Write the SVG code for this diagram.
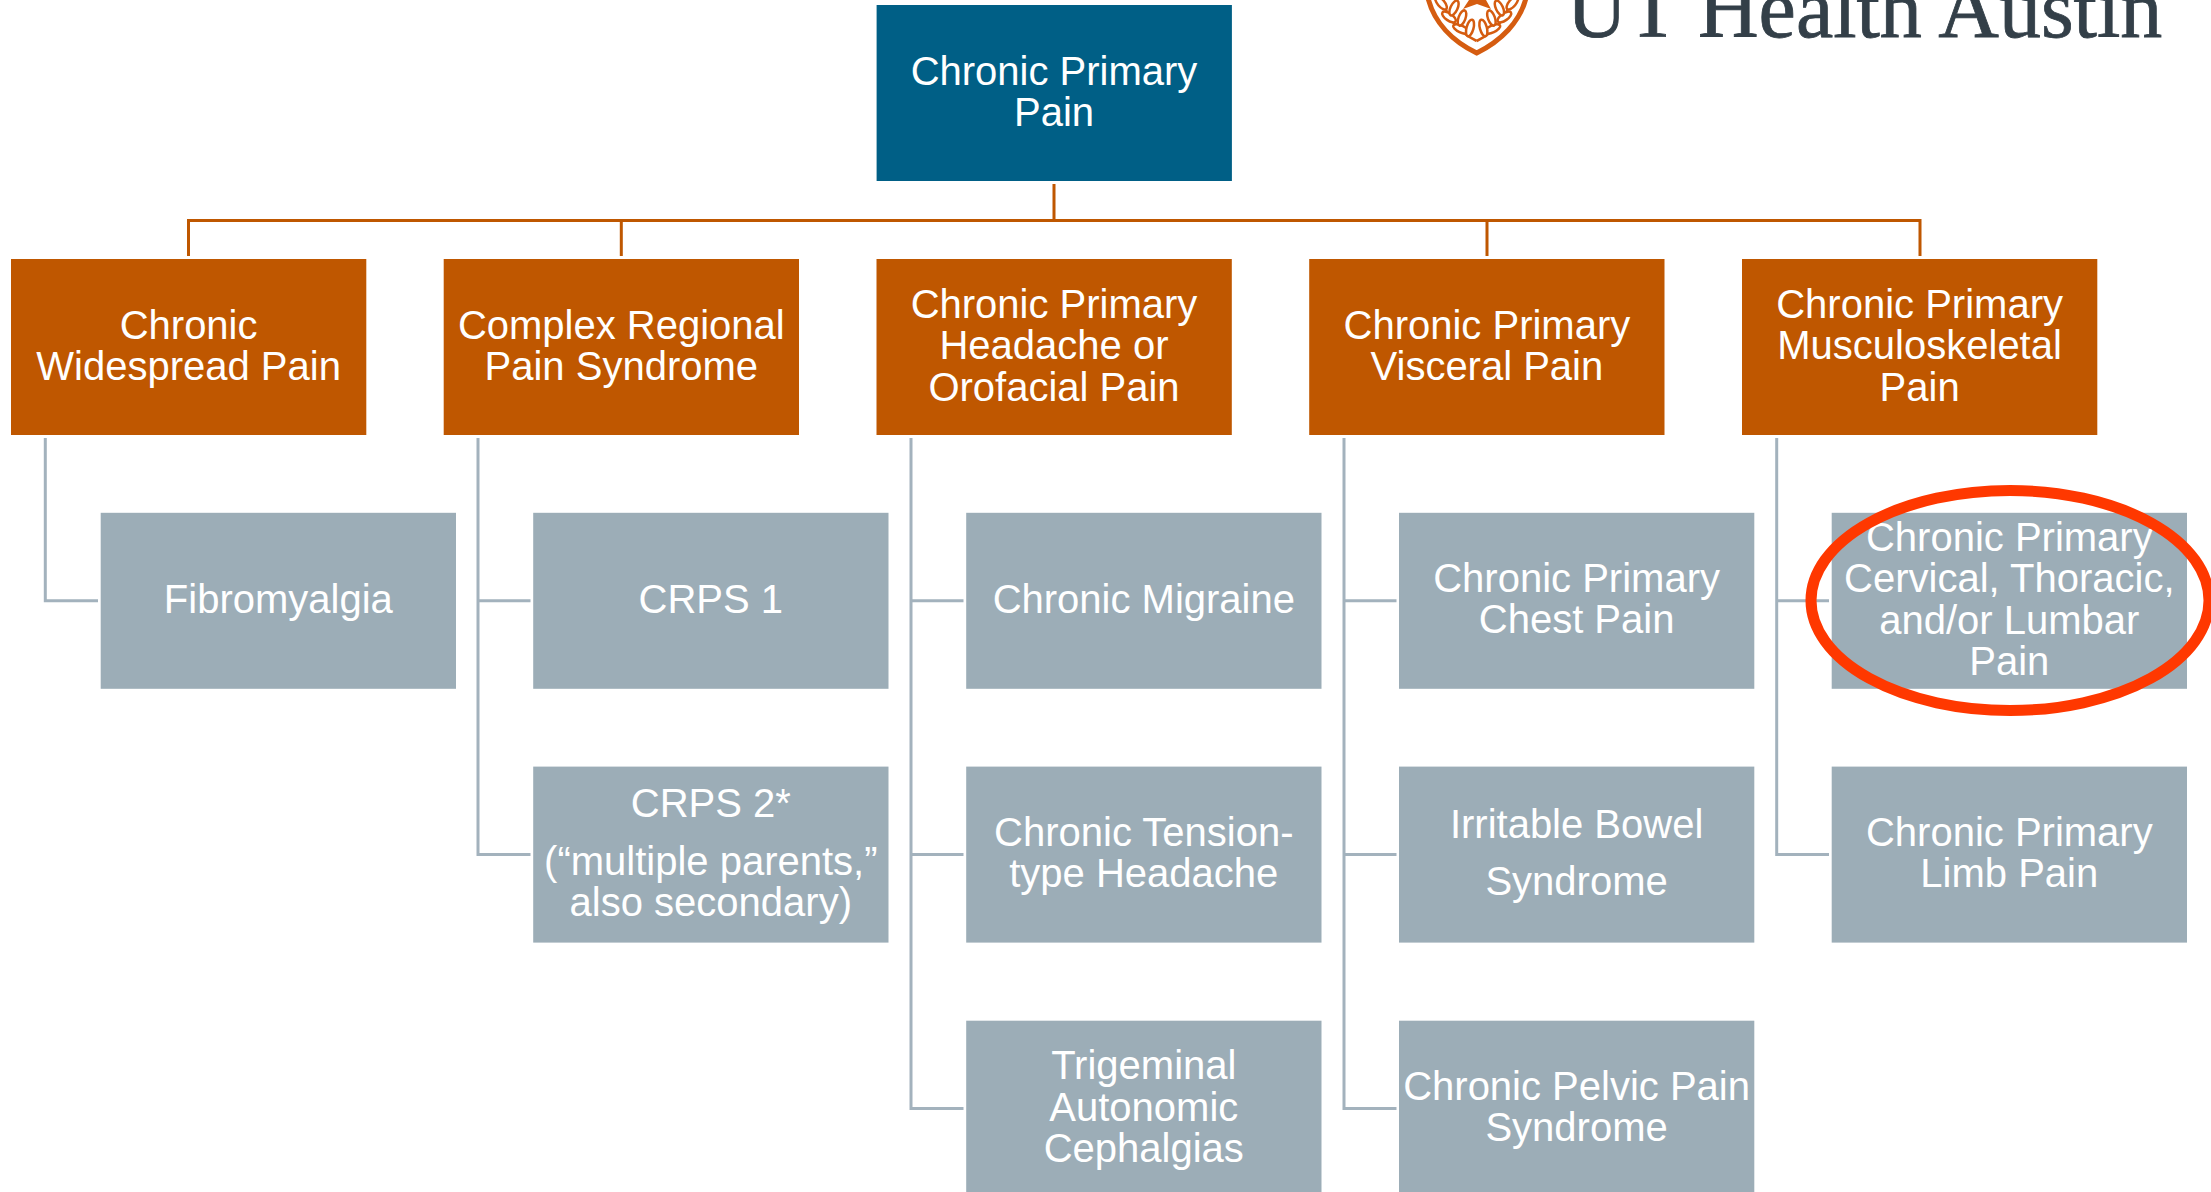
<svg xmlns="http://www.w3.org/2000/svg" width="2211" height="1192" viewBox="0 0 2211 1192">
<style>
text{font-family:"Liberation Sans",Arial,sans-serif;font-size:40px;fill:#fff;text-anchor:middle}
.b{fill:#005f86}.o{fill:#bf5700}.g{fill:#9cadb7}
.lo{fill:none;stroke:#bf5700;stroke-width:3}
.lg{fill:none;stroke:#a3b2bd;stroke-width:3}
text.logo{font-family:"Liberation Serif",serif;font-size:84px;fill:#333f48;text-anchor:start;stroke:#333f48;stroke-width:.8}
.leaf{fill:#fff;stroke:#d55c10;stroke-width:2.5}
.stem{fill:none;stroke:#d55c10;stroke-width:2.5}
</style>
<defs>
<g id="wreath">
<path class="stem" d="M1476.7 41C1458 32 1447 18 1443 0"/>
<ellipse class="leaf" cx="1441" cy="3" rx="8" ry="3.5" transform="rotate(50 1441 3)"/>
<ellipse class="leaf" cx="1449" cy="17" rx="8" ry="3.5" transform="rotate(35 1449 17)"/>
<ellipse class="leaf" cx="1461" cy="29" rx="8.5" ry="3.5" transform="rotate(25 1461 29)"/>
<ellipse class="leaf" cx="1454" cy="8" rx="8" ry="3.5" transform="rotate(-65 1454 8)"/>
<ellipse class="leaf" cx="1462" cy="18" rx="8" ry="3.5" transform="rotate(-70 1462 18)"/>
<ellipse class="leaf" cx="1470" cy="28" rx="8.5" ry="3.5" transform="rotate(-75 1470 28)"/>
</g>
</defs>
<rect width="2211" height="1192" fill="#fff"/>
<g id="connectors">
<path class="lo" d="M1054 184V220.5M188.5 256V220.5H1920V256M621.3 220.5V256M1487 220.5V256"/>
<path class="lg" d="M45.3 438V600.7H98"/>
<path class="lg" d="M478 438V854.5H530.5M478 600.7H530.5"/>
<path class="lg" d="M911 438V1108.6H963.5M911 600.7H963.5M911 854.5H963.5"/>
<path class="lg" d="M1344 438V1108.6H1396.5M1344 600.7H1396.5M1344 854.5H1396.5"/>
<path class="lg" d="M1776.7 438V854.5H1829M1776.7 600.7H1829"/>
</g>
<g id="root"><rect class="b" x="876.6" y="5" width="355.3" height="176"/><text x="1054" y="85">Chronic Primary</text><text x="1054" y="126">Pain</text></g>
<g id="n1"><rect class="o" x="11" y="259" width="355.3" height="176"/><text x="188.6" y="339">Chronic</text><text x="188.6" y="380">Widespread Pain</text></g>
<g id="n2"><rect class="o" x="443.7" y="259" width="355.3" height="176"/><text x="621.3" y="339">Complex Regional</text><text x="621.3" y="380">Pain Syndrome</text></g>
<g id="n3"><rect class="o" x="876.5" y="259" width="355.3" height="176"/><text x="1054" y="318">Chronic Primary</text><text x="1054" y="359">Headache or</text><text x="1054" y="401">Orofacial Pain</text></g>
<g id="n4"><rect class="o" x="1309.2" y="259" width="355.3" height="176"/><text x="1486.9" y="339">Chronic Primary</text><text x="1486.9" y="380">Visceral Pain</text></g>
<g id="n5"><rect class="o" x="1742" y="259" width="355.3" height="176"/><text x="1919.6" y="318">Chronic Primary</text><text x="1919.6" y="359">Musculoskeletal</text><text x="1919.6" y="401">Pain</text></g>
<g id="fibro"><rect class="g" x="100.7" y="512.8" width="355.3" height="176"/><text x="278.3" y="613">Fibromyalgia</text></g>
<g id="crps1"><rect class="g" x="533.2" y="512.8" width="355.3" height="176"/><text x="710.8" y="613">CRPS 1</text></g>
<g id="crps2"><rect class="g" x="533.2" y="766.6" width="355.3" height="176"/><text x="710.8" y="817">CRPS 2*</text><text x="710.8" y="875">(“multiple parents,”</text><text x="710.8" y="916">also secondary)</text></g>
<g id="migraine"><rect class="g" x="966.2" y="512.8" width="355.3" height="176"/><text x="1143.8" y="613">Chronic Migraine</text></g>
<g id="tension"><rect class="g" x="966.2" y="766.6" width="355.3" height="176"/><text x="1143.8" y="846">Chronic Tension-</text><text x="1143.8" y="887">type Headache</text></g>
<g id="tac"><rect class="g" x="966.2" y="1020.7" width="355.3" height="176"/><text x="1143.8" y="1079">Trigeminal</text><text x="1143.8" y="1121">Autonomic</text><text x="1143.8" y="1162">Cephalgias</text></g>
<g id="chest"><rect class="g" x="1399" y="512.8" width="355.3" height="176"/><text x="1576.6" y="592">Chronic Primary</text><text x="1576.6" y="633">Chest Pain</text></g>
<g id="ibs"><rect class="g" x="1399" y="766.6" width="355.3" height="176"/><text x="1576.6" y="838">Irritable Bowel</text><text x="1576.6" y="895">Syndrome</text></g>
<g id="pelvic"><rect class="g" x="1399" y="1020.7" width="355.3" height="176"/><text x="1576.6" y="1100">Chronic Pelvic Pain</text><text x="1576.6" y="1141">Syndrome</text></g>
<g id="spine"><rect class="g" x="1831.7" y="512.8" width="355.3" height="176"/><text x="2009.3" y="551">Chronic Primary</text><text x="2009.3" y="592">Cervical, Thoracic,</text><text x="2009.3" y="634">and/or Lumbar</text><text x="2009.3" y="675">Pain</text></g>
<g id="limb"><rect class="g" x="1831.7" y="766.6" width="355.3" height="176"/><text x="2009.3" y="846">Chronic Primary</text><text x="2009.3" y="887">Limb Pain</text></g>
<ellipse cx="2010" cy="600.5" rx="199" ry="110" fill="none" stroke="#ff3800" stroke-width="11"/>
<g id="logo">
<path d="M1428 -2C1434 22 1452 41 1476.7 53C1501 41 1520 22 1526 -2" fill="none" stroke="#d55c10" stroke-width="5"/>
<polygon points="1469,0 1463,9 1477,4 1491,9 1486,0" fill="#d55c10"/>
<use href="#wreath"/>
<use href="#wreath" transform="translate(2953.4 0) scale(-1 1)"/>
<text class="logo" x="1566.5" y="36.5">UT Health Austin</text>
</g>
</svg>
